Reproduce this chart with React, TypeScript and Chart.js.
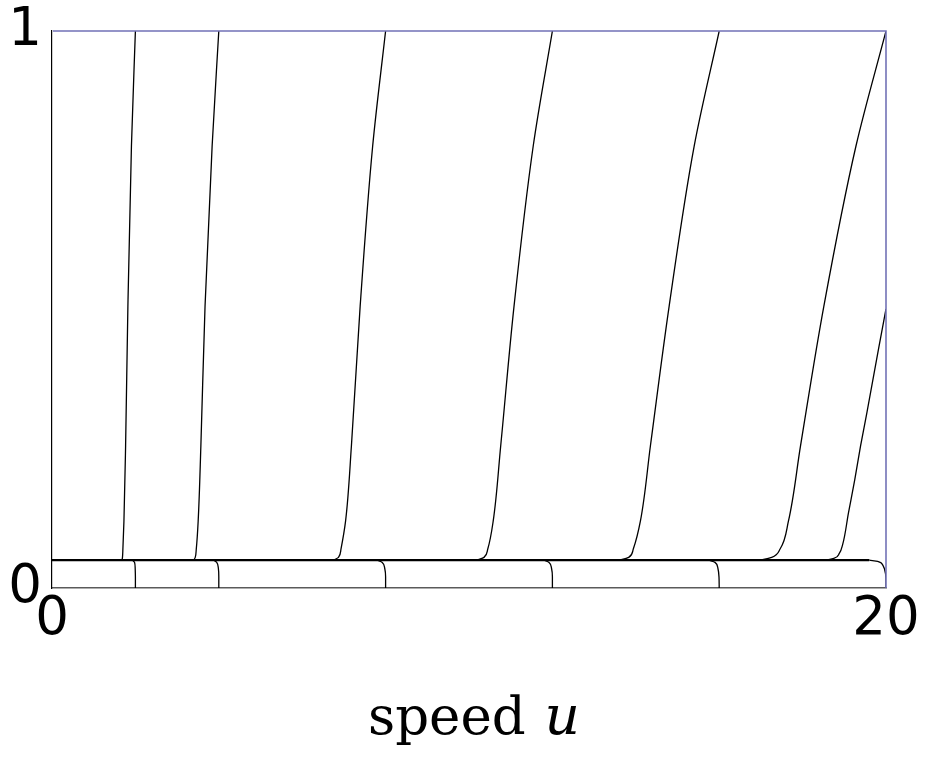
import React, { useEffect, useRef } from "react";
import { Chart, registerables } from "chart.js";

Chart.register(...registerables);

// ---- data ----
const xTicks = [0, 20];
const yTicks = [0, 1];
const xTitleMain = "speed ";
const xTitleVar = "u";

// common heights (y) sampled along the rising curves
const riseY = [0.05, 0.055, 0.07, 0.12, 0.255, 0.506, 0.7935, 1.0];
const riseU2 = [1.68, 1.69, 1.7, 1.725, 1.765, 1.82, 1.905, 2.0];
const riseU4 = [3.4, 3.435, 3.46, 3.505, 3.57, 3.67, 3.84, 4.0];
const riseU8 = [6.75, 6.87, 6.93, 7.04, 7.18, 7.39, 7.69, 8.0];
const riseU12 = [10.2, 10.36, 10.45, 10.58, 10.76, 11.08, 11.54, 12.0];
const riseU16 = [13.62, 13.83, 13.94, 14.11, 14.35, 14.8, 15.4, 16.0];
const riseU20 = [17.0, 17.26, 17.46, 17.66, 17.95, 18.51, 19.28, 20.0];

// last rising curve, cut by the right edge
const lastY = [0.05, 0.053, 0.062, 0.078, 0.135, 0.194, 0.255, 0.314, 0.433, 0.501];
const lastU = [18.55, 18.75, 18.88, 18.96, 19.1, 19.25, 19.39, 19.54, 19.83, 20.0];

// base line
const baseU = [0, 19.6];
const baseY = [0.05, 0.05];

// falling feet below the base line
const footY = [0.05, 0.046, 0.035, 0.02, 0];
const footU2 = [1.93, 1.98, 1.995, 2.0, 2.0];
const footU4 = [3.88, 3.95, 3.99, 4.0, 4.0];
const footU8 = [7.8, 7.92, 7.98, 8.0, 8.0];
const footU12 = [11.8, 11.92, 11.98, 12.0, 12.0];
const footU16 = [15.75, 15.9, 15.97, 15.995, 16.0];
const foot20Y = [0.05, 0.048, 0.04, 0.025, 0.01, 0];
const footU20 = [19.6, 19.8, 19.93, 19.99, 20.0, 20.0];

const zip = (us: number[], ys: number[]) => us.map((u, i) => ({ x: u, y: ys[i] }));

const curve = (us: number[], ys: number[]) => ({
  data: zip(us, ys),
  borderColor: "#000",
  borderWidth: 1.3,
  pointRadius: 0,
  fill: false,
  indexAxis: "y" as const,
  cubicInterpolationMode: "monotone" as const,
});

const framePlugin = {
  id: "frame",
  afterDatasetsDraw(chart: any) {
    const { ctx, chartArea } = chart;
    const { left, right, top, bottom } = chartArea;
    ctx.save();
    ctx.strokeStyle = "#7272b6";
    ctx.lineWidth = 1.6;
    ctx.beginPath();
    ctx.moveTo(left + 1, top);
    ctx.lineTo(right, top);
    ctx.lineTo(right, bottom);
    ctx.stroke();
    ctx.restore();
  },
  afterDraw(chart: any) {
    const { ctx, chartArea } = chart;
    const { left, right } = chartArea;
    ctx.save();
    ctx.fillStyle = "#000";
    ctx.textBaseline = "alphabetic";
    ctx.textAlign = "left";
    const mainFont = '53px "DejaVu Serif"';
    const varFont = 'italic 55px "DejaVu Serif"';
    ctx.font = mainFont;
    const w1 = ctx.measureText(xTitleMain).width;
    ctx.font = varFont;
    const w2 = ctx.measureText(xTitleVar).width;
    const cx = (left + right) / 2 + 4;
    const x0 = cx - (w1 + w2) / 2;
    const yBase = 734;
    ctx.font = mainFont;
    ctx.fillText(xTitleMain, x0, yBase);
    ctx.font = varFont;
    ctx.fillText(xTitleVar, x0 + w1 + 2, yBase);
    ctx.restore();
  },
};

export default function App() {
  const ref = useRef<HTMLCanvasElement | null>(null);

  useEffect(() => {
    if (!ref.current) return;
    const datasets: any[] = [
      {
        data: zip(baseU, baseY),
        borderColor: "#000",
        borderWidth: 2.2,
        pointRadius: 0,
        tension: 0,
        fill: false,
      },
      curve(riseU2, riseY),
      curve(riseU4, riseY),
      curve(riseU8, riseY),
      curve(riseU12, riseY),
      curve(riseU16, riseY),
      curve(riseU20, riseY),
      curve(lastU, lastY),
      curve(footU2, footY),
      curve(footU4, footY),
      curve(footU8, footY),
      curve(footU12, footY),
      curve(footU16, footY),
      curve(footU20, foot20Y),
    ];
    const chart = new Chart(ref.current, {
      type: "line",
      data: { datasets },
      plugins: [framePlugin],
      options: {
        animation: false,
        responsive: false,
        maintainAspectRatio: false,
        parsing: false as any,
        layout: { padding: { top: 31, right: 40, left: 0, bottom: 0 } },
        plugins: {
          legend: { display: false },
          tooltip: { enabled: false },
          title: { display: false },
        },
        scales: {
          x: {
            type: "linear",
            min: 0,
            max: 20,
            grid: { display: false, drawTicks: false },
            border: { display: true, color: "#5a5a5a", width: 1.5 },
            afterBuildTicks: (s: any) => {
              s.ticks = xTicks.map((v) => ({ value: v }));
            },
            afterFit: (s: any) => {
              s.height = 170;
              s.paddingLeft = 0;
              s.paddingRight = 0;
            },
            ticks: {
              color: "#000",
              padding: 0,
              maxRotation: 0,
              autoSkip: false,
              font: { family: '"DejaVu Sans"', size: 53 },
            },
          },
          y: {
            type: "linear",
            min: 0,
            max: 1,
            grid: { display: false, drawTicks: false },
            border: { display: true, color: "#000", width: 1.2 },
            afterBuildTicks: (s: any) => {
              s.ticks = yTicks.map((v) => ({ value: v }));
            },
            afterFit: (s: any) => {
              s.width = 52;
              s.paddingTop = 0;
              s.paddingBottom = 0;
            },
            ticks: {
              color: "#000",
              padding: 10,
              autoSkip: false,
              font: { family: '"DejaVu Sans"', size: 53 },
            },
          },
        },
      } as any,
    });
    return () => chart.destroy();
  }, []);

  return (
    <div style={{ position: "fixed", left: 0, top: 0, width: 926, height: 758, background: "#fff" }}>
      <canvas ref={ref} width={926} height={758} style={{ width: 926, height: 758, display: "block" }} />
    </div>
  );
}
